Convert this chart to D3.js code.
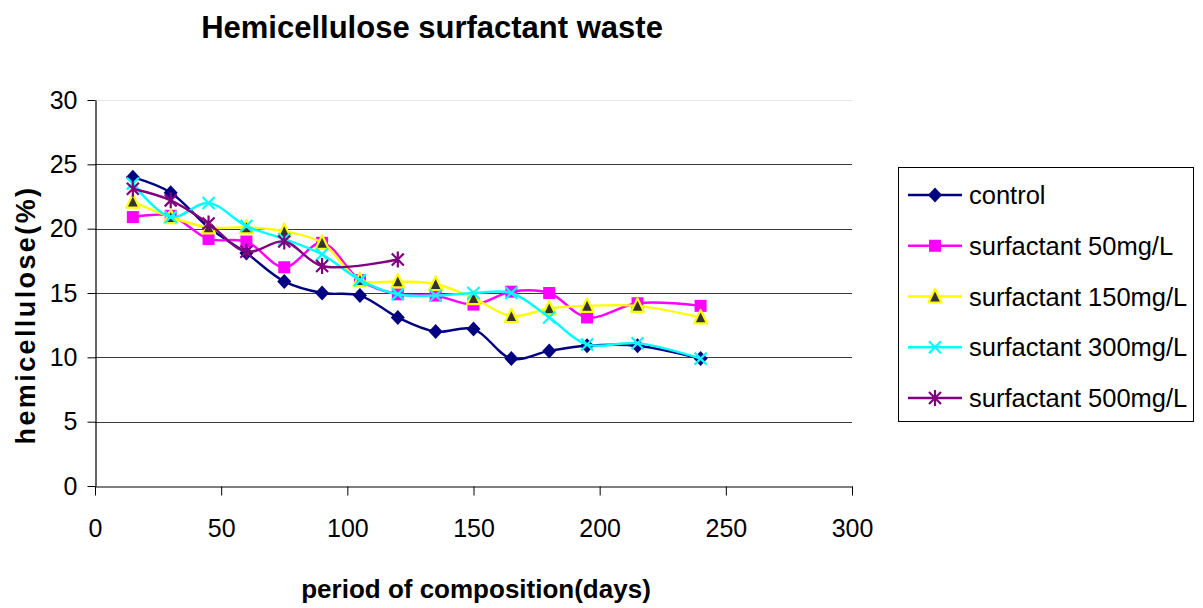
<!DOCTYPE html>
<html>
<head>
<meta charset="utf-8">
<script src="https://cdn.jsdelivr.net/npm/d3@7"></script>
<style>
  html, body { margin: 0; padding: 0; background: #fff; }
  svg { display: block; font-family: "Liberation Sans", Arial, sans-serif; }
</style>
</head>
<body>
<svg id="chart" width="1203" height="608"></svg>
<script>
// Sampling days and hemicellulose content (%) per treatment
const days = [15, 30, 45, 60, 75, 90, 105, 120, 135, 150, 165, 180, 195, 215, 240];
const daysShort = [15, 30, 45, 60, 75, 90, 120];

const control   = [24.0, 22.8, 20.1, 18.1, 15.9, 15.0, 14.8, 13.1, 12.0, 12.2, 9.9, 10.5, 10.9, 10.9, 9.9];
const surf50    = [20.9, 21.0, 19.2, 19.0, 17.0, 18.9, 16.0, 14.9, 14.8, 14.1, 15.1, 15.0, 13.1, 14.2, 14.0];
const surf150   = [22.1, 20.9, 20.1, 20.1, 19.8, 18.9, 16.0, 15.9, 15.7, 14.6, 13.2, 13.8, 14.0, 14.0, 13.1];
const surf300   = [23.5, 20.9, 22.0, 20.2, 19.2, 18.0, 16.0, 14.9, 14.8, 15.0, 15.0, 13.1, 11.0, 11.1, 9.9];
const surf500   = [23.1, 22.2, 20.4, 18.2, 19.0, 17.1, 17.6];

const seriesNames = ["control", "surfactant 50mg/L", "surfactant 150mg/L", "surfactant 300mg/L", "surfactant 500mg/L"];
const xTicks = [0, 50, 100, 150, 200, 250, 300];
const yTicks = [0, 5, 10, 15, 20, 25, 30];

const series = [
  { name: seriesNames[0], x: days,      y: control, color: "#000080", marker: "diamond" },
  { name: seriesNames[1], x: days,      y: surf50,  color: "#FF00FF", marker: "square" },
  { name: seriesNames[2], x: days,      y: surf150, color: "#FFFF00", marker: "triangle" },
  { name: seriesNames[3], x: days,      y: surf300, color: "#00FFFF", marker: "cross" },
  { name: seriesNames[4], x: daysShort, y: surf500, color: "#800080", marker: "star" }
];

const svg = d3.select("#chart");
const plot = { left: 95, right: 852, top: 100, bottom: 486 };

const x = d3.scaleLinear().domain([0, 300]).range([plot.left, plot.right]);
const y = d3.scaleLinear().domain([0, 30]).range([plot.bottom, plot.top]);

// Text helper: placed by translate, optionally rotated
function label(g, tx, ty, str, opts) {
  const t = g.append("text")
    .attr("transform", `translate(${tx},${ty})${opts.rotate ? " rotate(" + opts.rotate + ")" : ""}`)
    .attr("text-anchor", opts.anchor || "start")
    .attr("font-size", opts.size)
    .attr("font-weight", opts.bold ? "bold" : "normal")
    .attr("fill", "#000")
    .text(str);
  if (opts.spacing) t.attr("letter-spacing", opts.spacing);
  return t;
}

// Horizontal gridlines
svg.append("g")
  .selectAll("line")
  .data(yTicks.filter(d => d > 0))
  .join("line")
  .attr("x1", plot.left).attr("x2", plot.right)
  .attr("y1", d => Math.round(y(d)) + 0.5).attr("y2", d => Math.round(y(d)) + 0.5)
  .attr("stroke", d => d === 30 ? "#e6e6e6" : "#3a3a3a")
  .attr("stroke-width", 1);

// Axes
const xAxis = svg.append("g")
  .attr("transform", `translate(0,${plot.bottom + 0.5})`)
  .call(d3.axisBottom(x).tickValues(xTicks).tickSize(9).tickSizeOuter(0).tickPadding(24));
const yAxis = svg.append("g")
  .attr("transform", `translate(${plot.left + 0.5},0)`)
  .call(d3.axisLeft(y).tickValues(yTicks).tickSize(8).tickSizeOuter(0).tickPadding(10));

[xAxis, yAxis].forEach(ax => {
  ax.select(".domain").attr("stroke", "#000").attr("stroke-width", 1.2);
  ax.selectAll(".tick line").attr("stroke", "#000").attr("stroke-width", 1);
  ax.selectAll(".tick text")
    .attr("font-family", "'Liberation Sans', Arial, sans-serif")
    .attr("font-size", 25)
    .attr("fill", "#000");
});
xAxis.selectAll(".tick text").attr("dy", "0.71em");

// Marker shapes
function drawMarker(g, kind, color, cx, cy) {
  const m = g.append("g").attr("transform", `translate(${cx},${cy})`);
  if (kind === "diamond") {
    m.append("path").attr("d", "M0,-7.5L7,0L0,7.5L-7,0Z").attr("fill", color);
  } else if (kind === "square") {
    m.append("rect").attr("x", -6).attr("y", -6).attr("width", 12).attr("height", 12).attr("fill", color);
  } else if (kind === "triangle") {
    m.append("path").attr("d", "M0,-7.5L6.5,6L-6.5,6Z")
      .attr("fill", "#333").attr("stroke", color).attr("stroke-width", 2.2).attr("stroke-linejoin", "round");
  } else if (kind === "cross") {
    m.append("path").attr("d", "M-6,-6L6,6M-6,6L6,-6")
      .attr("stroke", color).attr("stroke-width", 2.2).attr("fill", "none");
  } else if (kind === "star") {
    m.append("path").attr("d", "M-6,-6L6,6M-6,6L6,-6M0,-8L0,8")
      .attr("stroke", color).attr("stroke-width", 2.2).attr("fill", "none");
  }
}

// Smoothed series lines with markers
const line = d3.line()
  .x(d => x(d[0]))
  .y(d => y(d[1]))
  .curve(d3.curveCatmullRom.alpha(0.5));

const dataG = svg.append("g");
series.forEach(s => {
  const pts = s.x.map((d, i) => [d, s.y[i]]);
  const g = dataG.append("g");
  g.append("path")
    .datum(pts)
    .attr("d", line)
    .attr("fill", "none")
    .attr("stroke", s.color)
    .attr("stroke-width", 2.4)
    .attr("stroke-linejoin", "round");
  pts.forEach(p => drawMarker(g, s.marker, s.color, x(p[0]), y(p[1])));
});

// Title and axis titles
label(svg, 432, 38, "Hemicellulose surfactant waste", { size: 31, bold: true, anchor: "middle" });
label(svg, 476, 598, "period of composition(days)", { size: 26, bold: true, anchor: "middle" });
label(svg, 35, 315, "hemicellulose(%)", { size: 27, bold: true, anchor: "middle", rotate: -90, spacing: 2.4 });

// Legend
const legend = svg.append("g");
legend.append("rect")
  .attr("x", 898.5).attr("y", 167.5).attr("width", 295).attr("height", 254)
  .attr("fill", "#fff").attr("stroke", "#000").attr("stroke-width", 1);
const legendY = d3.scalePoint().domain(seriesNames).range([195, 398]);
series.forEach(s => {
  const ly = legendY(s.name);
  legend.append("line")
    .attr("x1", 908).attr("x2", 962).attr("y1", ly).attr("y2", ly)
    .attr("stroke", s.color).attr("stroke-width", 2.4);
  drawMarker(legend, s.marker, s.color, 935, ly);
  label(legend, 969, ly + 9, s.name, { size: 25.5 });
});
</script>
</body>
</html>
